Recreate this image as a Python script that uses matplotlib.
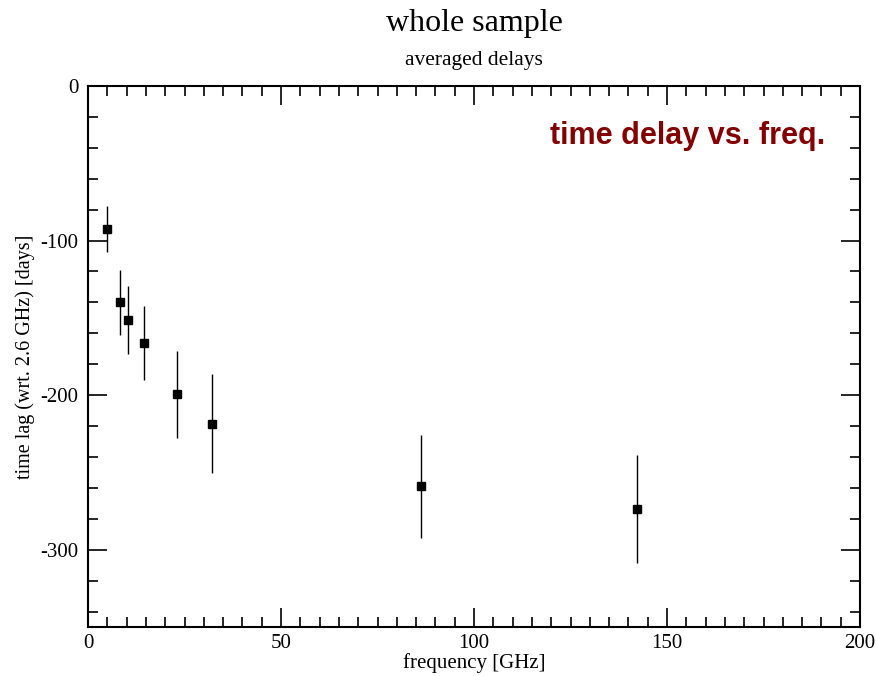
import matplotlib
matplotlib.use("Agg")
import matplotlib.pyplot as plt
from matplotlib.ticker import MultipleLocator

# Averaged time lags relative to 2.6 GHz
freq_ghz = [4.85, 8.35, 10.45, 14.6, 23.05, 32.0, 86.2, 142.3]
lag_days = [-92.5, -140.0, -151.5, -166.5, -199.5, -218.5, -259.0, -273.5]
lag_err = [15.0, 21.0, 22.0, 24.0, 28.0, 32.0, 33.5, 35.0]

plt.rcParams["font.family"] = ["Liberation Serif", "DejaVu Serif"]
plt.rcParams["axes.unicode_minus"] = False

fig = plt.figure(figsize=(8.76, 6.76), dpi=100)
ax = fig.add_axes([88 / 876, 1 - 627 / 676, (860 - 88) / 876, (627 - 86) / 676])

ax.errorbar(freq_ghz, lag_days, yerr=lag_err, fmt="s", color="black",
            markersize=6, elinewidth=1.0, capsize=0, ecolor="black")

ax.set_xlim(0, 200)
ax.set_ylim(-350, 0)
ax.xaxis.set_major_locator(MultipleLocator(50))
ax.xaxis.set_minor_locator(MultipleLocator(5))
ax.yaxis.set_major_locator(MultipleLocator(100))
ax.yaxis.set_minor_locator(MultipleLocator(20))
ax.tick_params(which="both", direction="in", top=True, right=True,
               labelsize=15, width=1.2)
ax.tick_params(which="major", length=14)
ax.tick_params(axis="y", which="major", pad=7)
ax.tick_params(axis="x", which="major", pad=5)
ax.tick_params(which="minor", length=7)
for s in ax.spines.values():
    s.set_linewidth(1.5)

ax.set_xlabel("frequency [GHz]", fontsize=15, labelpad=0)
ax.set_ylabel("time lag (wrt. 2.6 GHz) [days]", fontsize=14.5, labelpad=4)

fig.text(474 / 876, 1 - 23 / 676, "whole sample", ha="center", va="center",
         fontsize=23)
fig.text(474 / 876, 1 - 60 / 676, "averaged delays", ha="center", va="center",
         fontsize=15.5)

ax.text(0.955, 0.907, "time delay vs. freq.", transform=ax.transAxes,
        ha="right", va="center", fontsize=22, fontweight="bold",
        color="#840000", family=["Liberation Sans", "DejaVu Sans"])

fig.savefig("out.png", dpi=100)
